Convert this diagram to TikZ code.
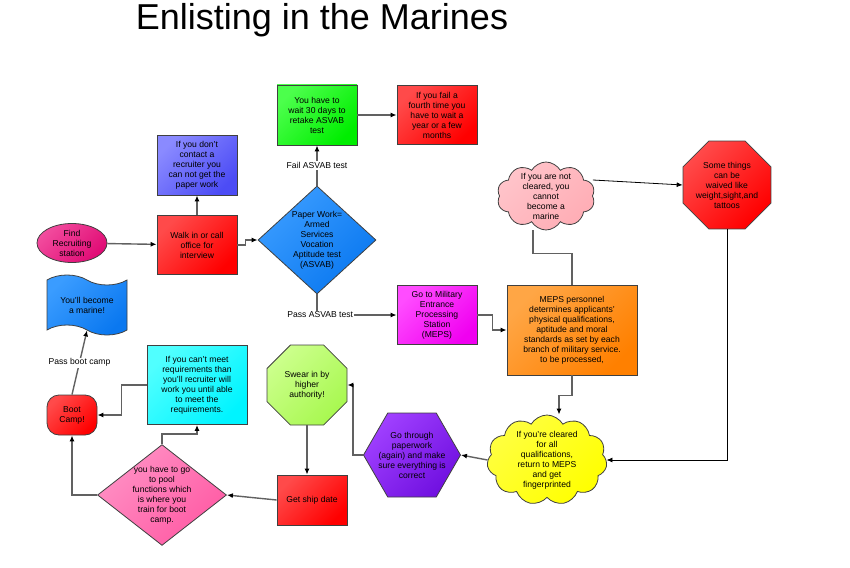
\documentclass[tikz,border=0pt]{standalone}
\usepackage{fontspec}
\setmainfont{Liberation Sans}
\usetikzlibrary{shapes.geometric,shapes.symbols,arrows.meta}

\definecolor{pinkA}{HTML}{F24C9E}
\definecolor{pinkB}{HTML}{E00A74}
\definecolor{redA}{HTML}{FF4A4A}
\definecolor{redB}{HTML}{FF0000}
\definecolor{blueA}{HTML}{8A8AFF}
\definecolor{blueB}{HTML}{4C4CF5}
\definecolor{skyA}{HTML}{3A9CFF}
\definecolor{skyB}{HTML}{0A78F0}
\definecolor{greenA}{HTML}{4CFF4C}
\definecolor{greenB}{HTML}{00EE00}
\definecolor{magA}{HTML}{FF4CFF}
\definecolor{magB}{HTML}{F000F0}
\definecolor{orangeA}{HTML}{FFA645}
\definecolor{orangeB}{HTML}{FF8000}
\definecolor{roseA}{HTML}{FFC4CA}
\definecolor{roseB}{HTML}{FFADB5}
\definecolor{yellowA}{HTML}{FFFF40}
\definecolor{yellowB}{HTML}{FFFF00}
\definecolor{purpleA}{HTML}{A040FF}
\definecolor{purpleB}{HTML}{7010E0}
\definecolor{limeA}{HTML}{CCFF8C}
\definecolor{limeB}{HTML}{A8F850}
\definecolor{candyA}{HTML}{FF90C4}
\definecolor{candyB}{HTML}{FF5AA4}
\definecolor{cyanA}{HTML}{50FFFF}
\definecolor{cyanB}{HTML}{00F4FF}

\begin{document}
\begin{tikzpicture}[x=1pt, y=-1pt,
    font=\fontsize{8.6}{10}\selectfont,
    shape box/.style={draw=black!75, line width=0.8pt, align=center, inner sep=1pt},
    grad/.style 2 args={top color=#1, bottom color=#2, shading angle=45},
    link/.style={draw=black!62, line width=1.4pt},
    arr/.style={link, -{Latex[length=6pt,width=5pt,color=black]}},
    thin arr/.style={draw=black, line width=0.8pt, -{Latex[length=6pt,width=5pt]}},
    lbl/.style={fill=white, inner sep=1pt}]
    \useasboundingbox (0,0) rectangle (850,567);

    \node[font=\fontsize{36}{40}\selectfont, anchor=base] (title) at (322,30) {Enlisting in the Marines};

    % first row
    \node[shape box, ellipse, grad={pinkA}{pinkB}, minimum width=70pt, minimum height=39pt, inner sep=-2pt] (find) at (72,243) {Find\\Recruiting\\station};
    \node[shape box, rectangle, grad={redA}{redB}, minimum width=80pt, minimum height=59pt] (walk) at (197,245) {Walk in or call\\office for\\interview};
    \node[shape box, rectangle, grad={blueA}{blueB}, minimum width=80pt, minimum height=60pt] (contact) at (197,165) {If you don't\\contact a\\recruiter you\\can not get the\\paper work};
    \node[shape box, diamond, grad={skyA}{skyB}, minimum width=118pt, minimum height=108pt, inner sep=-2pt] (paper) at (317,240) {Paper Work=\\Armed\\Services\\Vocation\\Aptitude test\\(ASVAB)};
    \node[shape box, rectangle, grad={greenA}{greenB}, minimum width=80pt, minimum height=60pt] (retake) at (317,115) {You have to\\wait 30 days to\\retake ASVAB\\test};
    \node[shape box, rectangle, grad={redA}{redB}, minimum width=80pt, minimum height=59pt] (fourth) at (437,115) {If you fail a\\fourth time you\\have to wait a\\year or a few\\months};

    % MEPS
    \node[shape box, rectangle, grad={magA}{magB}, minimum width=80pt, minimum height=59pt] (station) at (437,315) {Go to Military\\Entrance\\Processing\\Station\\(MEPS)};
    \node[shape box, rectangle, grad={orangeA}{orangeB}, minimum width=130pt, minimum height=90pt] (meps) at (572,330) {MEPS personnel\\determines applicants'\\physical qualifications,\\aptitude and moral\\standards as set by each\\branch of military service.\\to be processed,};
    \node[shape box, cloud, cloud puffs=10, cloud puff arc=120, grad={roseA}{roseB}, minimum width=98pt, minimum height=68pt, inner sep=-6pt] (notcleared) at (546,196) {If you are not\\cleared, you\\cannot\\become a\\marine};
    \node[shape box, regular polygon, regular polygon sides=8, grad={redA}{redB}, minimum size=86.6pt, inner sep=0pt] (waive) at (727,185) {Some things\\can be\\waived like\\weight,sight,and\\tattoos};
    \node[shape box, cloud, cloud puffs=11, cloud puff arc=120, grad={yellowA}{yellowB}, minimum width=120pt, minimum height=90pt, inner sep=-6pt] (cleared) at (547,460) {If you're cleared\\for all\\qualifications,\\return to MEPS\\and get\\fingerprinted};

    % bottom row
    \node[shape box, regular polygon, regular polygon sides=6, grad={purpleA}{purpleB}, minimum size=90pt, inner sep=-4pt] (again) at (412,455) {Go through\\paperwork\\(again) and make\\sure everything is\\correct};
    \node[shape box, regular polygon, regular polygon sides=8, grad={limeA}{limeB}, minimum size=86.6pt, inner sep=0pt] (swear) at (307,385) {Swear in by\\higher\\authority!};
    \node[shape box, rectangle, grad={redA}{redB}, minimum width=70pt, minimum height=50pt] (ship) at (312,500) {Get ship date};
    \node[shape box, diamond, grad={candyA}{candyB}, minimum width=129pt, minimum height=99pt, inner sep=-4pt] (pool) at (162,495) {you have to go\\to pool\\functions which\\is where you\\train for boot\\camp.};
    \node[shape box, rectangle, grad={cyanA}{cyanB}, minimum width=100pt, minimum height=79pt] (unable) at (197,385) {If you can't meet\\requirements than\\you'll recruiter will\\work you until able\\to meet the\\requirements.};
    \node[shape box, rectangle, rounded corners=12pt, grad={redA}{redB}, minimum width=50pt, minimum height=40pt] (boot) at (72,415) {Boot\\Camp!};
    \node[shape box, tape, tape bend top=out and in, tape bend bottom=out and in, tape bend height=10pt, grad={skyA}{skyB}, minimum width=80pt, minimum height=60pt] (marine) at (87,305) {You'll become\\a marine!};

    % connectors
    \draw[arr] (find) -- (walk);
    \draw[arr] (walk) -- (contact);
    \draw[arr] (walk.east) -- ++(8,0) |- (paper.west);
    \draw[arr] (paper) -- node[lbl] {Fail ASVAB test} (retake);
    \draw[arr] (retake) -- (fourth);
    \draw[arr] (paper.south) |- (station.west) node[lbl, pos=0.52] {Pass ASVAB test};
    \draw[arr] (station.east) -- ++(15,0) |- (meps.west);
    \draw[link] (meps.north) -- ++(0,-31) -| ([xshift=-13pt]notcleared.south);
    \draw[thin arr] ([yshift=16pt]notcleared.east) -- (waive.west);
    \draw[thin arr] (waive.south) |- (cleared.east);
    \draw[arr] (meps.south) -- ++(0,20) -| ([xshift=12pt]cleared.north);
    \draw[arr] (cleared.west) -- (again.east);
    \draw[arr] (again.west) -- ++(-10,0) |- (swear.east);
    \draw[arr] (swear.south) -- (swear.south |- ship.north);
    \draw[arr] (ship.west) -- (pool.east);
    \draw[arr] (pool.west) -| (boot.south);
    \draw[arr] (pool.north) -- ++(0,-10) -| (unable.south);
    \draw[arr] (unable.west) -- ++(-25,0) |- (boot.east);
    \draw[arr] (boot.north) -- node[lbl] {Pass boot camp} (marine.south);
\end{tikzpicture}
\end{document}
